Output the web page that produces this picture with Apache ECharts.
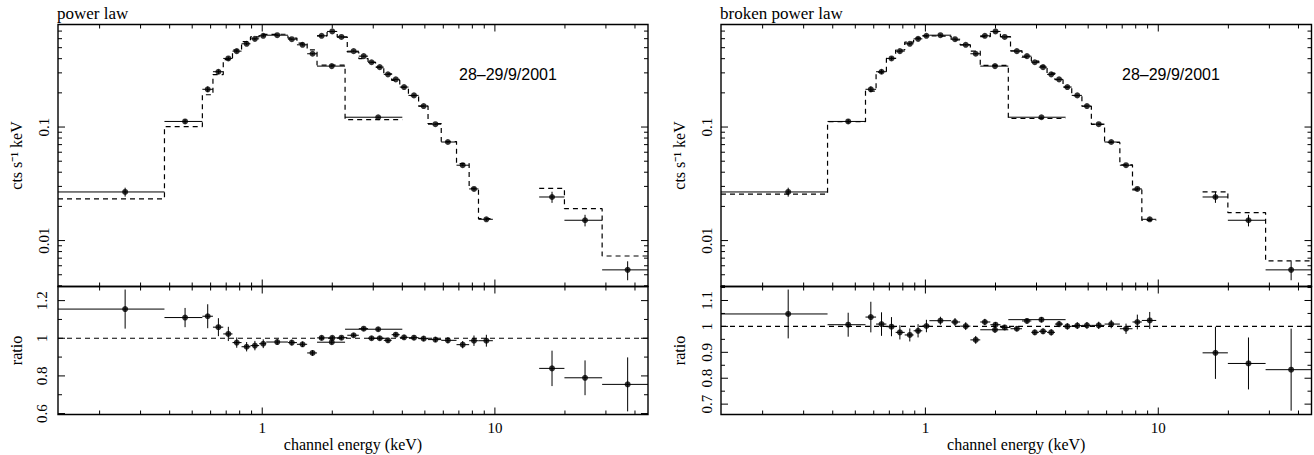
<!DOCTYPE html>
<html>
<head>
<meta charset="utf-8">
<script src="https://cdn.jsdelivr.net/npm/echarts@6/dist/echarts.min.js"></script>
<style>
html, body { margin: 0; padding: 0; background: #fff; }
#main { width: 1314px; height: 455px; }
</style>
</head>
<body>
<div id="main"></div>
<script>
// spectrum 28-29/9/2001, three instrument groups, fitted with power law / broken power law

var xRange = [0.1325, 45.5];
var rateRange = [0.00394, 0.8];
var ratioRangePl = [0.595, 1.275];
var ratioRangeBpl = [0.66, 1.154];

// low energy group
var lecsE = [0.2575, 0.466, 0.583, 0.648, 0.715, 0.777, 0.857, 0.930, 1.01, 1.16, 1.34, 1.49, 1.645, 1.99, 3.15];
var lecsEdges = [0.1325, 0.38, 0.553, 0.614, 0.68, 0.745, 0.815, 0.89, 0.97, 1.04, 1.29, 1.41, 1.56, 1.72, 2.27, 4.0];
var lecsRate = [0.0268, 0.112, 0.215, 0.307, 0.402, 0.466, 0.541, 0.598, 0.636, 0.644, 0.594, 0.530, 0.442, 0.344, 0.122];
var lecsErr = [0.09, 0.046, 0.057, 0.045, 0.037, 0.028, 0.026, 0.026, 0.024, 0.015, 0.015, 0.015, 0.016, 0.012, 0.01];

// medium energy group
var mecsE = [1.80, 2.0, 2.19, 2.47, 2.73, 2.95, 3.2, 3.47, 3.75, 4.07, 4.49, 4.94, 5.55, 6.28, 7.27, 8.13, 9.19];
var mecsEdges = [1.72, 1.9, 2.1, 2.32, 2.6, 2.85, 3.07, 3.33, 3.6, 3.9, 4.25, 4.7, 5.16, 5.88, 6.84, 7.75, 8.5, 9.8];
var mecsRate = [0.636, 0.695, 0.622, 0.466, 0.421, 0.372, 0.337, 0.291, 0.263, 0.225, 0.190, 0.153, 0.106, 0.0738, 0.0461, 0.0285, 0.0154];
var mecsErr = [0.012, 0.01, 0.01, 0.01, 0.01, 0.01, 0.011, 0.012, 0.012, 0.012, 0.013, 0.013, 0.014, 0.016, 0.02, 0.028, 0.032];

// hard x-ray group
var pdsE = [17.6, 24.4, 37.2];
var pdsEdges = [15.5, 19.9, 28.9, 45.5];
var pdsRate = [0.0242, 0.0151, 0.00552];
var pdsErr = [0.112, 0.117, 0.19];

// power law fit
var plLecsModel = [0.0233, 0.101, 0.1925, 0.290, 0.393, 0.477, 0.566, 0.622, 0.655, 0.657, 0.608, 0.548, 0.479, 0.351, 0.1164];
var plMecsModel = [0.635, 0.694, 0.620, 0.459, 0.401, 0.372, 0.337, 0.294, 0.258, 0.224, 0.189, 0.153, 0.107, 0.0746, 0.0477, 0.0289, 0.0156];
var plPdsModel = [0.0288, 0.0191, 0.00731];
var plLecsRatio = [1.155, 1.11, 1.117, 1.059, 1.023, 0.977, 0.955, 0.961, 0.971, 0.980, 0.977, 0.968, 0.922, 0.979, 1.048];
var plMecsRatio = [1.002, 1.002, 1.003, 1.016, 1.051, 1.0, 1.0, 0.989, 1.019, 1.005, 1.003, 0.998, 0.993, 0.989, 0.966, 0.987, 0.987];
var plPdsRatio = [0.84, 0.79, 0.755];

// broken power law fit
var bplLecsModel = [0.0256, 0.1113, 0.2075, 0.3043, 0.4024, 0.477, 0.5595, 0.6083, 0.635, 0.630, 0.584, 0.529, 0.466, 0.3485, 0.1189];
var bplMecsModel = [0.625, 0.6905, 0.6245, 0.470, 0.412, 0.381, 0.3435, 0.298, 0.261, 0.225, 0.1894, 0.1524, 0.1056, 0.0731, 0.0465, 0.0280, 0.01505];
var bplPdsModel = [0.0269, 0.0176, 0.00663];
var bplLecsRatio = [1.048, 1.0065, 1.036, 1.009, 0.999, 0.977, 0.967, 0.983, 1.0015, 1.022, 1.017, 1.001, 0.948, 0.987, 1.026];
var bplMecsRatio = [1.017, 1.0065, 0.996, 0.991, 1.021, 0.977, 0.981, 0.977, 1.009, 1.0, 1.003, 1.004, 1.004, 1.009, 0.991, 1.017, 1.023];
var bplPdsRatio = [0.898, 0.857, 0.833];

// ticks and tick labels
var xMajorTicks = [1, 10];
var xTickLabels = ['1', '10'];
var xMinorTicks = [0.2, 0.3, 0.4, 0.5, 0.6, 0.7, 0.8, 0.9, 2, 3, 4, 5, 6, 7, 8, 9, 20, 30, 40];
var rateMajorTicks = [0.01, 0.1];
var rateTickLabels = ['0.01', '0.1'];
var rateMinorTicks = [0.004, 0.005, 0.006, 0.007, 0.008, 0.009, 0.02, 0.03, 0.04, 0.05, 0.06, 0.07, 0.08, 0.09, 0.2, 0.3, 0.4, 0.5, 0.6, 0.7];
var ratioPlMajor = [0.6, 0.8, 1, 1.2];
var ratioPlLabels = ['0.6', '0.8', '1', '1.2'];
var ratioPlMinor = [0.7, 0.9, 1.1];
var ratioBplMajor = [0.7, 0.8, 0.9, 1, 1.1];
var ratioBplLabels = ['0.7', '0.8', '0.9', '1', '1.1'];
var ratioBplMinor = [0.75, 0.85, 0.95, 1.05, 1.15];

var serif = 'Liberation Serif';
var chart = echarts.init(document.getElementById('main'), null, { renderer: 'svg' });

function modelSteps(edges, model) {
  var pts = [];
  for (var i = 0; i < model.length; i++) {
    pts.push([edges[i], model[i]]);
    pts.push([edges[i + 1], model[i]]);
  }
  return pts;
}

function errRows(e, edges, val, rel) {
  return e.map(function (x, i) {
    return [x, val[i], edges[i], edges[i + 1], val[i] * (1 - rel[i]), val[i] * (1 + rel[i])];
  });
}

function tickRows(xMaj, xMin, yMaj, yMin, xRef, yRef) {
  var rows = [];
  xMaj.forEach(function (v) { rows.push([v, yRef, 1, 0]); });
  xMin.forEach(function (v) { rows.push([v, yRef, 0, 0]); });
  yMaj.forEach(function (v) { rows.push([xRef, v, 1, 1]); });
  yMin.forEach(function (v) { rows.push([xRef, v, 0, 1]); });
  return rows;
}

function errBar(params, api) {
  var c = api.coord([api.value(0), api.value(1)]);
  var l = api.coord([api.value(2), api.value(1)]);
  var r = api.coord([api.value(3), api.value(1)]);
  var lo = api.coord([api.value(0), api.value(4)]);
  var hi = api.coord([api.value(0), api.value(5)]);
  var st = { stroke: '#000', lineWidth: 1 };
  return {
    type: 'group', children: [
      { type: 'line', shape: { x1: l[0], y1: c[1], x2: r[0], y2: c[1] }, style: st },
      { type: 'line', shape: { x1: c[0], y1: lo[1], x2: c[0], y2: hi[1] }, style: st }
    ]
  };
}

// inward ticks on all four sides of the box
function tickMark(params, api) {
  var cs = params.coordSys;
  var p = api.coord([api.value(0), api.value(1)]);
  var len = api.value(2) ? 7 : 4;
  var st = { stroke: '#000', lineWidth: 1 };
  var kids;
  if (api.value(3) === 0) {
    kids = [
      { type: 'line', shape: { x1: p[0], y1: cs.y + cs.height, x2: p[0], y2: cs.y + cs.height - len }, style: st },
      { type: 'line', shape: { x1: p[0], y1: cs.y, x2: p[0], y2: cs.y + len }, style: st }
    ];
  } else {
    kids = [
      { type: 'line', shape: { x1: cs.x, y1: p[1], x2: cs.x + len, y2: p[1] }, style: st },
      { type: 'line', shape: { x1: cs.x + cs.width, y1: p[1], x2: cs.x + cs.width - len, y2: p[1] }, style: st }
    ];
  }
  return { type: 'group', children: kids };
}

function labelFrom(values, texts, isLog) {
  return function (v) {
    for (var i = 0; i < values.length; i++) {
      var d = isLog ? Math.abs(Math.log10(v) - Math.log10(values[i])) : Math.abs(v - values[i]);
      if (d < 1e-6) return texts[i];
    }
    return '';
  };
}

var panels = [
  {
    title: 'power law', left: 58, width: 590,
    ratioRange: ratioRangePl, ratioMajor: ratioPlMajor, ratioLabels: ratioPlLabels, ratioMinor: ratioPlMinor, ratioMargin: 9,
    lecsModel: plLecsModel, mecsModel: plMecsModel, pdsModel: plPdsModel,
    lecsRatio: plLecsRatio, mecsRatio: plMecsRatio, pdsRatio: plPdsRatio
  },
  {
    title: 'broken power law', left: 721, width: 590.5,
    ratioRange: ratioRangeBpl, ratioMajor: ratioBplMajor, ratioLabels: ratioBplLabels, ratioMinor: ratioBplMinor, ratioMargin: 7,
    lecsModel: bplLecsModel, mecsModel: bplMecsModel, pdsModel: bplPdsModel,
    lecsRatio: bplLecsRatio, mecsRatio: bplMecsRatio, pdsRatio: bplPdsRatio
  }
];

var grid = [], xAxis = [], yAxis = [], series = [], title = [], graphic = [];

panels.forEach(function (p, k) {
  var gTop = 2 * k, gRat = 2 * k + 1;
  grid.push({ left: p.left, top: 24.5, width: p.width, height: 262, show: true, borderColor: '#000', borderWidth: 1.4 });
  grid.push({ left: p.left, top: 286.5, width: p.width, height: 128, show: true, borderColor: '#000', borderWidth: 1.4 });

  [gTop, gRat].forEach(function (g) {
    var isRat = g === gRat;
    xAxis.push({
      type: 'log', logBase: 10, gridIndex: g, min: xRange[0], max: xRange[1],
      axisLine: { show: false }, axisTick: { show: false }, splitLine: { show: false }, minorTick: { show: false },
      axisLabel: {
        show: isRat, margin: 6, color: '#000', fontFamily: serif, fontSize: 15,
        showMinLabel: false, showMaxLabel: false,
        formatter: labelFrom(xMajorTicks, xTickLabels, true)
      },
      name: isRat ? 'channel energy (keV)' : '', nameLocation: 'middle', nameGap: 22,
      nameTextStyle: { color: '#000', fontFamily: serif, fontSize: 16 }
    });
  });

  yAxis.push({
    type: 'log', logBase: 10, gridIndex: gTop, min: rateRange[0], max: rateRange[1],
    axisLine: { show: false }, axisTick: { show: false }, splitLine: { show: false },
    axisLabel: {
      rotate: 90, margin: 7, color: '#000', fontFamily: serif, fontSize: 15,
      showMinLabel: false, showMaxLabel: false,
      formatter: labelFrom(rateMajorTicks, rateTickLabels, true)
    },
    name: 'cts s\u207b\u00b9 keV', nameLocation: 'middle', nameRotate: 90, nameGap: 34,
    nameTextStyle: { color: '#000', fontFamily: serif, fontSize: 16 }
  });
  yAxis.push({
    type: 'value', gridIndex: gRat, min: p.ratioRange[0], max: p.ratioRange[1],
    axisLine: { show: false }, axisTick: { show: false }, splitLine: { show: false },
    axisLabel: {
      rotate: 90, margin: p.ratioMargin, color: '#000', fontFamily: serif, fontSize: 15,
      showMinLabel: false, showMaxLabel: false,
      formatter: labelFrom(p.ratioMajor, p.ratioLabels, false)
    },
    name: 'ratio', nameLocation: 'middle', nameRotate: 90, nameGap: 34,
    nameTextStyle: { color: '#000', fontFamily: serif, fontSize: 16 }
  });

  title.push({
    text: p.title, left: p.left - 1, top: 5, padding: 0,
    textStyle: { color: '#000', fontFamily: serif, fontSize: 17, fontWeight: 'normal' }
  });
  graphic.push({
    type: 'text', left: p.left + 401, top: 66,
    style: { text: '28\u201329/9/2001', fill: '#000', font: '16px Liberation Sans' }
  });

  var groups = [
    { e: lecsE, edges: lecsEdges, rate: lecsRate, err: lecsErr, model: p.lecsModel, ratio: p.lecsRatio },
    { e: mecsE, edges: mecsEdges, rate: mecsRate, err: mecsErr, model: p.mecsModel, ratio: p.mecsRatio },
    { e: pdsE, edges: pdsEdges, rate: pdsRate, err: pdsErr, model: p.pdsModel, ratio: p.pdsRatio }
  ];

  groups.forEach(function (d) {
    series.push({
      type: 'line', xAxisIndex: gTop, yAxisIndex: gTop, data: modelSteps(d.edges, d.model),
      showSymbol: false, symbol: 'none', silent: true, z: 2,
      lineStyle: { color: '#000', width: 1.2, type: [5, 4] }
    });
    series.push({
      type: 'custom', xAxisIndex: gTop, yAxisIndex: gTop, renderItem: errBar, clip: true, silent: true, z: 3,
      data: errRows(d.e, d.edges, d.rate, d.err)
    });
    series.push({
      type: 'scatter', xAxisIndex: gTop, yAxisIndex: gTop, symbol: 'circle', symbolSize: 6, silent: true, z: 4,
      itemStyle: { color: '#000' },
      data: d.e.map(function (x, i) { return [x, d.rate[i]]; })
    });
    series.push({
      type: 'custom', xAxisIndex: gRat, yAxisIndex: gRat, renderItem: errBar, clip: true, silent: true, z: 3,
      data: errRows(d.e, d.edges, d.ratio, d.err)
    });
    series.push({
      type: 'scatter', xAxisIndex: gRat, yAxisIndex: gRat, symbol: 'circle', symbolSize: 6, silent: true, z: 4,
      itemStyle: { color: '#000' },
      data: d.e.map(function (x, i) { return [x, d.ratio[i]]; })
    });
  });

  // ratio = 1 reference
  series.push({
    type: 'line', xAxisIndex: gRat, yAxisIndex: gRat, data: [[xRange[0], 1], [xRange[1], 1]],
    showSymbol: false, symbol: 'none', silent: true, z: 2,
    lineStyle: { color: '#000', width: 1.2, type: [5, 4] }
  });

  series.push({
    type: 'custom', xAxisIndex: gTop, yAxisIndex: gTop, renderItem: tickMark, silent: true, z: 5,
    data: tickRows(xMajorTicks, xMinorTicks, rateMajorTicks, rateMinorTicks, 1, 0.1)
  });
  series.push({
    type: 'custom', xAxisIndex: gRat, yAxisIndex: gRat, renderItem: tickMark, silent: true, z: 5,
    data: tickRows(xMajorTicks, xMinorTicks, p.ratioMajor, p.ratioMinor, 1, 1)
  });
});

chart.setOption({
  animation: false,
  backgroundColor: '#fff',
  title: title,
  grid: grid,
  xAxis: xAxis,
  yAxis: yAxis,
  graphic: graphic,
  series: series
});
</script>
</body>
</html>
